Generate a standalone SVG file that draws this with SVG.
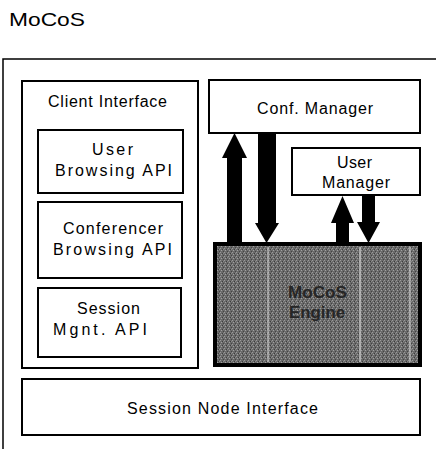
<svg xmlns="http://www.w3.org/2000/svg" width="436" height="449" viewBox="0 0 436 449">
  <style>
    .box { fill: #ffffff; stroke: #000000; stroke-width: 2; }
    .lbl { font-family: "Liberation Sans", Arial, sans-serif; font-size: 16px; fill: #000000; }
    .arrow { fill: #000000; stroke: none; }
    .eng { font-family: "Liberation Sans", Arial, sans-serif; font-size: 17px; font-weight: bold; fill: #262626; }
  </style>
  <defs>
    <pattern id="dither" width="4" height="4" patternUnits="userSpaceOnUse">
      <rect width="4" height="4" fill="#6a6a6a"/>
      <rect x="0" y="0" width="1" height="1" fill="#9a9a9a"/>
      <rect x="2" y="1" width="1" height="1" fill="#3c3c3c"/>
      <rect x="1" y="2" width="1" height="1" fill="#a0a0a0"/>
      <rect x="3" y="3" width="1" height="1" fill="#444444"/>
      <rect x="3" y="1" width="1" height="1" fill="#888888"/>
    </pattern>
  </defs>
  <rect width="436" height="449" fill="#ffffff"/>

  <text x="9" y="26" font-family="Liberation Sans, Arial, sans-serif" font-size="18" textLength="76" lengthAdjust="spacingAndGlyphs">MoCoS</text>

  <g id="frame">
    <path d="M3,449 V59 H436" fill="none" stroke="#000" stroke-width="1.5"/>
  </g>

  <g id="client-interface">
    <rect class="box" x="22" y="81" width="176" height="287"/>
    <text class="lbl" x="48" y="107" textLength="119" lengthAdjust="spacing">Client Interface</text>
  </g>

  <g id="user-browsing-api">
    <rect class="box" x="38" y="130" width="145" height="63"/>
    <text class="lbl" x="92" y="155" textLength="41" lengthAdjust="spacing">User</text>
    <text class="lbl" x="55" y="176" textLength="117" lengthAdjust="spacing">Browsing API</text>
  </g>

  <g id="conferencer-browsing-api">
    <rect class="box" x="38" y="202" width="144" height="76"/>
    <text class="lbl" x="63" y="234" textLength="100" lengthAdjust="spacing">Conferencer</text>
    <text class="lbl" x="53" y="255" textLength="119" lengthAdjust="spacing">Browsing API</text>
  </g>

  <g id="session-mgnt-api">
    <rect class="box" x="38" y="288" width="143" height="69"/>
    <text class="lbl" x="77" y="314" textLength="63" lengthAdjust="spacing">Session</text>
    <text class="lbl" x="53" y="335" textLength="94" lengthAdjust="spacing">Mgnt. API</text>
  </g>

  <g id="conf-manager">
    <rect class="box" x="209" y="80" width="211" height="53"/>
    <text class="lbl" x="257" y="114" textLength="116" lengthAdjust="spacing">Conf. Manager</text>
  </g>

  <g id="user-manager">
    <rect class="box" x="292" y="148" width="128" height="47"/>
    <text class="lbl" x="337" y="168" textLength="35" lengthAdjust="spacing">User</text>
    <text class="lbl" x="322" y="188" textLength="68" lengthAdjust="spacing">Manager</text>
  </g>

  <g id="mocos-engine">
    <rect x="215" y="244" width="205" height="121" fill="url(#dither)" stroke="#000" stroke-width="4"/>
    <line x1="268" y1="247" x2="268" y2="362" stroke="#d8d8d8" stroke-width="1"/>
    <line x1="360" y1="247" x2="360" y2="362" stroke="#c8c8c8" stroke-width="2" opacity="0.7"/>
    <line x1="410" y1="247" x2="410" y2="362" stroke="#e0e0e0" stroke-width="1"/>
    <text class="eng" x="288" y="298" textLength="59" lengthAdjust="spacingAndGlyphs">MoCoS</text>
    <text class="eng" x="289" y="318" textLength="56" lengthAdjust="spacingAndGlyphs">Engine</text>
  </g>

  <g id="session-node-interface">
    <rect class="box" x="22" y="379" width="398" height="56"/>
    <text class="lbl" x="127" y="414" textLength="191" lengthAdjust="spacing">Session Node Interface</text>
  </g>

  <g id="connectors">
    <polygon class="arrow" points="227,243 227,158 222,158 234.5,133 247,158 242,158 242,243"/>
    <polygon class="arrow" points="258,133 276,133 276,223 279,223 266.5,243 255,223 258,223"/>
    <polygon class="arrow" points="336,243 336,223 331,223 342.5,196 354,223 349,223 349,243"/>
    <polygon class="arrow" points="362,196 375,196 375,222 380,222 368.5,243 357,222 362,222"/>
  </g>
</svg>
